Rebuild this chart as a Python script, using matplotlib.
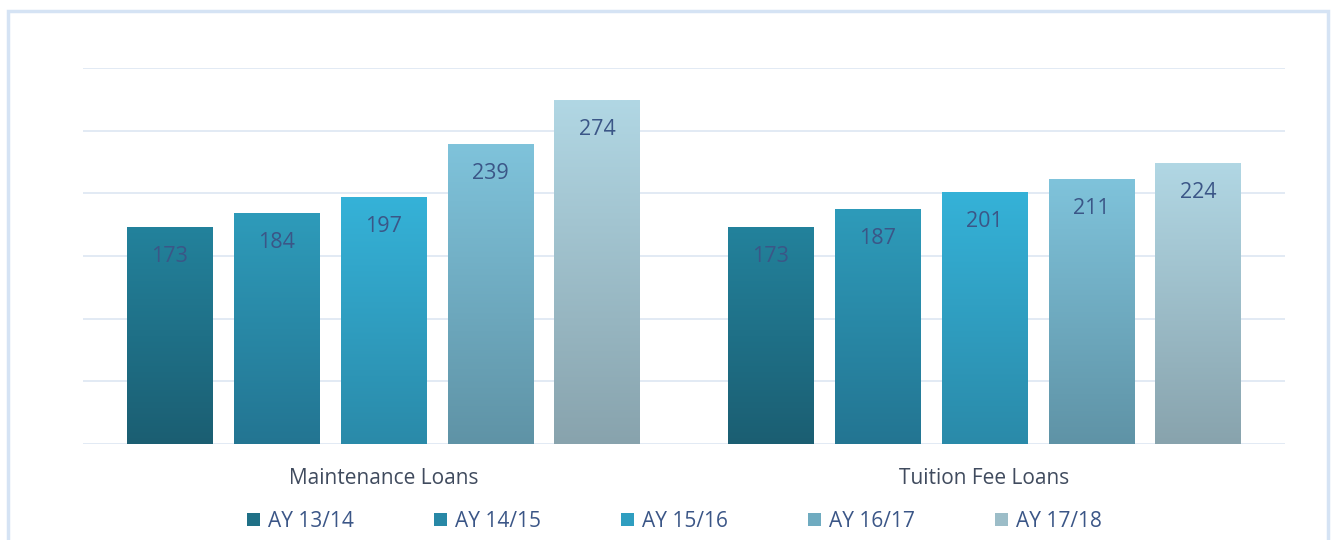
import numpy as np
import matplotlib
matplotlib.use("Agg")
import matplotlib.pyplot as plt
from matplotlib.colors import LinearSegmentedColormap
from matplotlib.patches import Patch, Rectangle

plt.rcParams['font.family'] = ['Open Sans', 'DejaVu Sans']

categories = ["Maintenance Loans", "Tuition Fee Loans"]
years = ["AY 13/14", "AY 14/15", "AY 15/16", "AY 16/17", "AY 17/18"]
maintenance = [173, 184, 197, 239, 274]
tuition = [173, 187, 201, 211, 224]

# gradient colours per series: (top, bottom)
top_cols = ["#23829c", "#2e9bba", "#35b2d8", "#7fc3db", "#b1d7e4"]
bot_cols = ["#1b5e72", "#237592", "#2a8aa9", "#5f93a6", "#88a3ad"]
mid_cols = ["#1f7086", "#2888a6", "#2f9ec0", "#6fabc0", "#9cbdc8"]

values = np.array([maintenance, tuition])  # shape (cat, series)

fig = plt.figure(figsize=(13.33, 5.4), dpi=100)
ax = fig.add_axes([83/1333, 96/540, 1202/1333, 376/540])

# outer frame of the chart area
fig.patches.append(Rectangle((8/1333, -0.05), 1320/1333, 1.05 - 11/540,
                             transform=fig.transFigure, fill=False,
                             edgecolor="#d5e3f4", linewidth=2.5))

x = np.arange(len(categories))
width = 0.143
step = 0.178
offsets = (np.arange(len(years)) - 2) * step

grad = np.linspace(0, 1, 256).reshape(-1, 1)
for i, yr in enumerate(years):
    bars = ax.bar(x + offsets[i], values[:, i], width, color="none", zorder=3)
    cmap = LinearSegmentedColormap.from_list("g%d" % i, [bot_cols[i], top_cols[i]])
    for b, v in zip(bars, values[:, i]):
        x0 = b.get_x()
        ax.imshow(grad, extent=[x0, x0 + width, 0, v], origin="lower",
                  aspect="auto", cmap=cmap, zorder=3)
        ax.annotate(str(v), (x0 + width / 2, v), xytext=(0, -29),
                    textcoords="offset pixels", ha="center", va="center",
                    fontsize=15.5, color="#3b5687", zorder=4)

ax.set_xlim(-0.5, 1.5)
ax.set_ylim(0, 300)
ax.set_yticks(np.arange(0, 301, 50))
ax.yaxis.grid(True, color="#dfe8f3", linewidth=1.3, zorder=0)
ax.set_axisbelow(True)
ax.tick_params(axis="y", length=0, labelleft=False)
ax.set_xticks(x)
ax.set_xticklabels(categories, fontsize=15, color="#404b5e")
ax.tick_params(axis="x", length=0, pad=17)
for s in ax.spines.values():
    s.set_visible(False)

handles = [Patch(facecolor=mid_cols[i], label=years[i]) for i in range(len(years))]
fig.legend(handles=handles, loc="center", bbox_to_anchor=(0.506, 0.035), ncol=5,
           frameon=False, fontsize=15, handlelength=0.6, handleheight=0.6,
           handletextpad=0.4, columnspacing=3.85, labelcolor="#3b5687")

fig.savefig("out.png", dpi=100)
